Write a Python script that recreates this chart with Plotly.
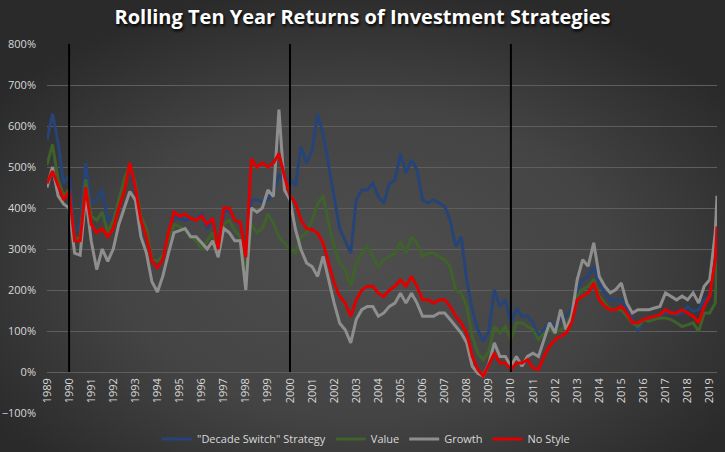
import base64
import plotly.graph_objects as go

# ---- data (quarterly readings, % rolling ten-year return) ----
dates = [1989 + q / 4 for q in range(122)] + [2019.33]

decade_switch = [
    565, 630, 560, 460,   480, 340, 360, 510,   410, 420, 445, 370,
    380, 420, 460, 500,   440, 360, 330, 270,   260, 280, 330, 380,
    375, 370, 375, 370,   385, 350, 370, 305,   390, 395, 370, 360,
    300, 420, 420, 415,   420, 440, 480, 470,   470, 455, 550, 510,
    540, 630, 580, 500,   420, 350, 320, 290,   420, 444, 444, 460,
    428, 412, 460, 468,   533, 485, 517, 493,   420, 412, 420, 412,
    404, 371, 306, 330,   225, 152, 103, 75,    100, 200, 160, 176,
    120, 155, 136, 136,   120, 87, 103, 120,    111, 128, 136, 152,
    201, 225, 233, 258,   217, 193, 176, 176,   176, 152, 128, 100,
    128, 128, 136, 140,   144, 144, 140, 144,   160, 148, 152, 176,
    185, 258, 290,
]
value = [
    505, 555, 470, 430,   445, 320, 330, 470,   380, 370, 390, 340,
    370, 420, 470, 505,   460, 380, 350, 275,   270, 285, 320, 360,
    355, 345, 330, 320,   300, 320, 340, 300,   360, 370, 345, 330,
    240, 360, 340, 350,   385, 363, 330, 314,   298, 290, 330, 340,
    370, 410, 430, 363,   306, 266, 249, 210,   266, 290, 306, 282,
    257, 274, 282, 290,   318, 290, 330, 314,   282, 290, 290, 282,
    274, 257, 200, 192,   160, 87, 46, 30,     50, 111, 95, 111,
    79, 120, 120, 111,    103, 79, 95, 103,     95, 103, 111, 144,
    185, 201, 209, 225,   185, 168, 152, 152,   152, 136, 120, 111,
    128, 124, 128, 132,   132, 128, 120, 111,   115, 120, 99, 144,
    144, 168, 270,
]
growth = [
    450, 500, 430, 410,   400, 290, 285, 430,   320, 250, 300, 270,
    300, 360, 400, 440,   420, 330, 290, 220,   195, 235, 290, 340,
    345, 350, 330, 330,   315, 300, 320, 280,   350, 340, 320, 320,
    200, 400, 390, 400,   444, 428, 640, 444,   420, 347, 298, 266,
    257, 233, 282, 225,   168, 119, 103, 71,    128, 152, 160, 160,
    136, 144, 160, 168,   192, 168, 192, 168,   136, 136, 136, 144,
    144, 128, 111, 95,    71, 14, -3, -10,     20, 71, 38, 38,
    14, 38, 14, 38,       46, 38, 79, 120,     95, 152, 103, 136,
    225, 274, 258, 315,   233, 209, 193, 201,   217, 168, 144, 152,
    152, 152, 156, 160,   193, 185, 176, 185,   176, 193, 168, 209,
    225, 339, 430,
]
no_style = [
    460, 490, 455, 420,   440, 320, 320, 450,   360, 340, 350, 330,
    350, 400, 440, 510,   450, 370, 330, 270,   255, 275, 340, 390,
    380, 385, 375, 370,   380, 360, 375, 300,   400, 400, 370, 365,
    280, 520, 500, 510,   500, 509, 533, 477,   430, 412, 370, 350,
    347, 339, 314, 266,   217, 184, 168, 136,   176, 200, 209, 209,
    192, 184, 200, 209,   225, 209, 233, 209,   176, 176, 168, 176,
    176, 160, 136, 119,   95, 38, 6, -10,      20, 46, 22, 22,
    6, 22, 22, 30,        10, 6, 38, 63,       79, 87, 95, 120,
    176, 185, 193, 217,   176, 160, 152, 152,   160, 144, 120, 120,
    128, 132, 136, 140,   152, 144, 144, 152,   144, 136, 120, 160,
    185, 274, 355,
]

series_names = ['"Decade Switch" Strategy', "Value", "Growth", "No Style"]
series_colors = ["#264478", "#3e6229", "#8e8e8e", "#e00000"]
year_ticks = list(range(1989, 2020))
decade_marks = [1990, 2000, 2010]

# ---- figure ----
W, H = 725, 452
ML, MR, MT, MB = 47, 8, 44, 39
pw, ph = W - ML - MR, H - MT - MB

fig = go.Figure()
for name, col, ys in zip(series_names, series_colors,
                         [decade_switch, value, growth, no_style]):
    fig.add_trace(go.Scatter(x=dates, y=ys, name=name, mode="lines",
                             line=dict(color=col, width=3)))

for d in decade_marks:
    fig.add_trace(go.Scatter(x=[d, d], y=[0, 800], mode="lines",
                             line=dict(color="#000000", width=2),
                             showlegend=False, hoverinfo="skip"))

svg = (f'<svg xmlns="http://www.w3.org/2000/svg" width="{W}" height="{H}" '
       f'viewBox="0 0 {W} {H}" preserveAspectRatio="none">'
       '<defs><radialGradient id="g" cx="0.5" cy="0.58" r="0.62">'
       '<stop offset="0" stop-color="#4e4e4e"/>'
       '<stop offset="0.55" stop-color="#444444"/>'
       '<stop offset="1" stop-color="#2a2a2a"/></radialGradient></defs>'
       f'<rect width="{W}" height="{H}" fill="url(#g)"/></svg>')
src = "data:image/svg+xml;base64," + base64.b64encode(svg.encode()).decode()

tick_font = dict(family="Open Sans", size=11, color="#d9d9d9")

fig.update_layout(
    width=W, height=H,
    margin=dict(l=ML, r=MR, t=MT, b=MB, autoexpand=False),
    paper_bgcolor="#3c3c3c",
    plot_bgcolor="rgba(0,0,0,0)",
    images=[dict(source=src, xref="paper", yref="paper",
                 x=-ML / pw, y=1 + MT / ph, sizex=W / pw, sizey=H / ph,
                 xanchor="left", yanchor="top", sizing="stretch",
                 layer="below")],
    title=dict(text="Rolling Ten Year Returns of Investment Strategies",
               x=0.5, xanchor="center", y=1 - 17 / H, yanchor="middle",
               font=dict(family="Open Sans", size=20, color="#ffffff",
                         weight="bold", shadow="1px 2px 3px #000000")),
    xaxis=dict(range=[1989, 2019.33], tickmode="array", tickvals=year_ticks,
               ticktext=[str(y) for y in year_ticks], tickangle=-90,
               showgrid=False, zeroline=False, showline=False, ticks="",
               anchor="free", position=100 / 900, tickfont=tick_font,
               ticklabelstandoff=3, automargin=False),
    yaxis=dict(range=[-100, 800], dtick=100, ticksuffix="%",
               showgrid=True, gridcolor="#5e5e5e", gridwidth=1,
               zeroline=False, showline=False, ticks="",
               tickfont=tick_font, ticklabelstandoff=10, automargin=False),
    legend=dict(orientation="h", x=(366 - ML) / pw, xanchor="center",
                y=-(439 - (H - MB)) / ph, yanchor="middle",
                font=dict(family="Open Sans", size=11, color="#d9d9d9"),
                bgcolor="rgba(0,0,0,0)", itemwidth=30),
    showlegend=True,
)

fig.write_html("out.html")
